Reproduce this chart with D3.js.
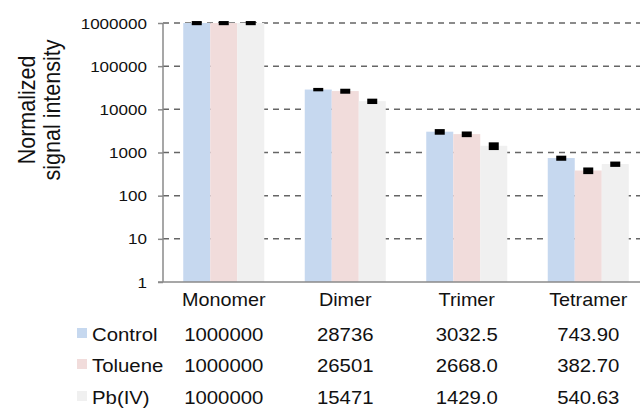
<!DOCTYPE html>
<html>
<head>
<meta charset="utf-8">
<script src="https://cdn.jsdelivr.net/npm/d3@7"></script>
<style>
  body { margin: 0; background: #fff; }
  text { font-family: "Liberation Sans", Arial, Helvetica, sans-serif; fill: #111; }
</style>
</head>
<body>
<script>
var svgWidth = 640;
var svgHeight = 408;

// chart data
var categories = ["Monomer", "Dimer", "Trimer", "Tetramer"];
var seriesNames = ["Control", "Toluene", "Pb(IV)"];
var control = [1000000, 28736, 3032.5, 743.90];
var toluene = [1000000, 26501, 2668.0, 382.70];
var pbIV = [1000000, 15471, 1429.0, 540.63];
// error bars
var controlErr = [110000, 2600, 450, 100];
var tolueneErr = [110000, 3500, 400, 67];
var pbIVErr = [110000, 2200, 290, 76];
var tableFormats = [".0f", ".0f", ".1f", ".2f"];
var yTicks = [1, 10, 100, 1000, 10000, 100000, 1000000];
var colors = ["#c6d8ef", "#f1dcdb", "#f0f0f0"];

var margin = { top: 23, left: 163, bottom: 282 };
var stretch = 1.1;

var series = [control, toluene, pbIV];
var errors = [controlErr, tolueneErr, pbIVErr];

var svg = d3.select("body")
    .append("svg")
    .attr("width", svgWidth)
    .attr("height", svgHeight);

svg.append("rect").attr("width", svgWidth).attr("height", svgHeight).attr("fill", "#fff");

// scales
var xScale = d3.scaleBand()
    .domain(categories)
    .range([margin.left, 649])
    .paddingInner(1 / 3)
    .paddingOuter(1 / 6);

var xInner = d3.scaleBand()
    .domain(seriesNames)
    .range([0, xScale.bandwidth()]);

var yScale = d3.scaleLog()
    .domain([1, 1000000])
    .range([margin.bottom, margin.top]);

// stretched text helper
function label(g, x, y, str, size, anchor) {
    return g.append("text")
        .attr("transform", `translate(${x}, ${y}) scale(${stretch}, 1)`)
        .attr("text-anchor", anchor || "start")
        .attr("font-size", size + "px")
        .text(str);
}

// dashed grid lines
svg.append("g")
    .selectAll("line")
    .data(yTicks.slice(1))
    .enter()
    .append("line")
    .attr("x1", margin.left)
    .attr("x2", svgWidth)
    .attr("y1", d => yScale(d))
    .attr("y2", d => yScale(d))
    .attr("stroke", "#666")
    .attr("stroke-width", 1.5)
    .attr("stroke-dasharray", "6,5");

// bars
var groups = svg.append("g")
    .selectAll("g")
    .data(categories)
    .enter()
    .append("g")
    .attr("transform", d => `translate(${xScale(d)}, 0)`);

groups.selectAll("rect")
    .data((c, i) => seriesNames.map((s, j) => ({ s: s, j: j, v: series[j][i], e: errors[j][i] })))
    .enter()
    .append("rect")
    .attr("x", d => xInner(d.s))
    .attr("width", xInner.bandwidth())
    .attr("y", d => yScale(d.v))
    .attr("height", d => yScale(1) - yScale(d.v))
    .attr("fill", d => colors[d.j]);

// error bars (short, so they read as black boxes)
groups.selectAll("rect.err")
    .data((c, i) => seriesNames.map((s, j) => ({ s: s, j: j, v: series[j][i], e: errors[j][i] })))
    .enter()
    .append("rect")
    .attr("class", "err")
    .attr("x", d => xInner(d.s) + xInner.bandwidth() / 2 - 5)
    .attr("width", 10)
    .attr("y", d => yScale(d.v + d.e))
    .attr("height", d => yScale(d.v - d.e) - yScale(d.v + d.e))
    .attr("fill", "#000");

// axes
var leftAxis = d3.axisLeft(yScale)
    .tickValues(yTicks)
    .tickFormat(d3.format("d"))
    .tickSize(5)
    .tickPadding(6);

var yAxisG = svg.append("g")
    .attr("transform", `translate(${margin.left}, 0)`)
    .call(leftAxis);
yAxisG.select(".domain").attr("stroke", "#8a8a8a").attr("stroke-width", 1.5)
    .attr("d", `M0,${margin.top}V${margin.bottom}`);
yAxisG.selectAll(".tick line").attr("stroke", "#8a8a8a").attr("stroke-width", 1.5);
yAxisG.selectAll(".tick text").remove();
yTicks.forEach(function(t) {
    label(svg, 147, yScale(t) + 5.5, d3.format("d")(t), 15.5, "end");
});

svg.append("line")
    .attr("x1", margin.left - 5)
    .attr("x2", svgWidth)
    .attr("y1", margin.bottom)
    .attr("y2", margin.bottom)
    .attr("stroke", "#8a8a8a")
    .attr("stroke-width", 1.5);

// y axis title
var title = svg.append("text")
    .attr("transform", "translate(35, 110) rotate(-90) scale(1, 1.1)")
    .attr("text-anchor", "middle")
    .attr("font-size", "21.5px");
title.append("tspan").attr("x", 0).attr("y", 0).text("Normalized");
title.append("tspan").attr("x", 0).attr("y", 23).text("signal intensity");

// category labels
categories.forEach(function(c) {
    label(svg, xScale(c) + xScale.bandwidth() / 2, 306, c, 18, "middle");
});

// data table with legend keys
var rowBase = [341, 372, 404];
seriesNames.forEach(function(s, j) {
    svg.append("rect")
        .attr("x", 77)
        .attr("y", rowBase[j] - 13)
        .attr("width", 10)
        .attr("height", 10)
        .attr("fill", colors[j]);
    label(svg, 92, rowBase[j], s, 18.5, "start");
    categories.forEach(function(c, i) {
        label(svg, xScale(c) + xScale.bandwidth() / 2, rowBase[j],
            d3.format(tableFormats[i])(series[j][i]), 18.5, "middle");
    });
});
</script>
</body>
</html>
